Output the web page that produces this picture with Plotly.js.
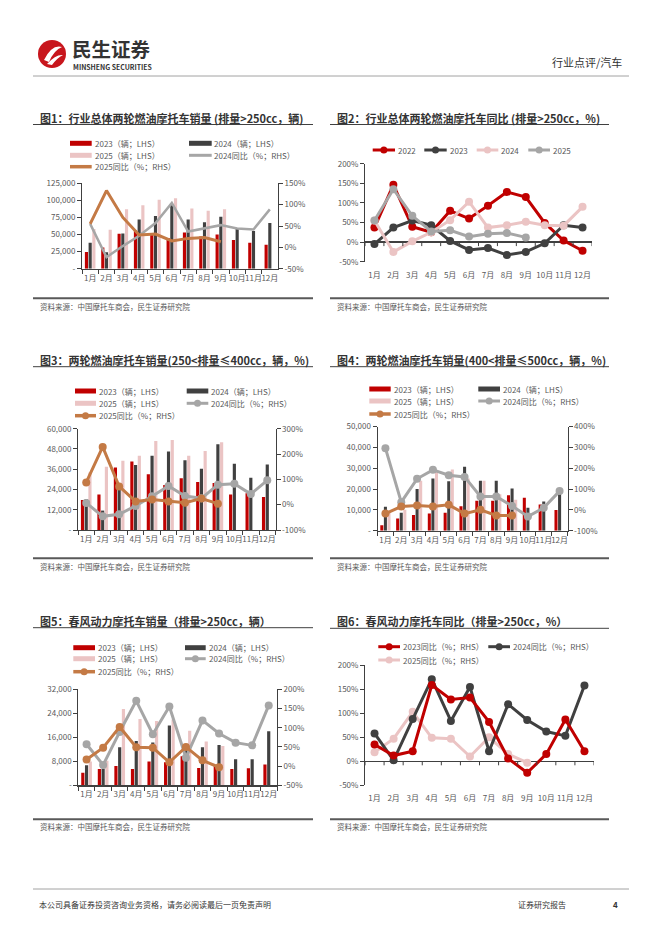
<!DOCTYPE html>
<html><head><meta charset="utf-8">
<script src="https://cdn.plot.ly/plotly-3.0.1.min.js"></script>
<style>html,body{margin:0;padding:0;background:#fff;}#page{width:662px;height:936px;}</style>
</head><body><div id="page"></div>
<script>
// ---------- data ----------
const months = ['1月','2月','3月','4月','5月','6月','7月','8月','9月','10月','11月','12月'];
const months9 = months.slice(0, 9);

// 图1 行业总体 >250cc (辆 / %)
const c1_2023 = [24500, 31000, 51000, 56000, 50000, 45000, 53000, 47000, 50000, 42000, 38000, 35000];
const c1_2024 = [38000, 24000, 51500, 72000, 77000, 93000, 72000, 68000, 76000, 58000, 55000, 67000];
const c1_2025 = [58000, 57000, 87000, 93000, 101000, 103000, 88000, 85000, 87000];
const c1_yoy2024 = [55, -23, 3, 27, 57, 104, 37, 44, 52, 44, 42, 89];
const c1_yoy2025 = [55, 133, 70, 29, 31, 15, 21, 23, 13];

// 图2 行业总体同比 (%)
const c2_2022 = [37, 146, 39, 25, 80, 60, 93, 128, 115, 49, 4, -22];
const c2_2023 = [-5, 37, 55, 43, 3, -20, -15, -33, -25, -3, 43, 37];
const c2_2024 = [55, -25, 2, 25, 56, 103, 37, 43, 52, 43, 42, 90];
const c2_2025 = [55, 135, 67, 27, 30, 14, 21, 23, 12];

// 图3 250<排量≤400cc
const c3_2023 = [17800, 21000, 37000, 40500, 33000, 26700, 30600, 28500, 27900, 21000, 21700, 19600];
const c3_2024 = [18200, 11500, 24000, 38500, 44000, 46500, 41300, 36300, 50800, 39200, 31000, 38800];
const c3_2025 = [34000, 37500, 41000, 44000, 52700, 53300, 44000, 46800, 52000];
const c3_yoy2024 = [7, -46, -38, -5, 33, 74, 34, 25, 79, 83, 42, 96];
const c3_yoy2025 = [88, 228, 72, 13, 20, 13, 8, 24, 4];

// 图4 400<排量≤500cc
const c4_2023 = [2600, 5900, 7500, 8200, 8600, 11700, 14400, 14400, 17000, 15800, 12600, 9900];
const c4_2024 = [11500, 8600, 20000, 25000, 23700, 30700, 24000, 24000, 20300, 11000, 14000, 18400];
const c4_2025 = [9400, 10000, 24000, 29000, 29400, 25000, 24000, 17500, 14800];
const c4_yoy2024 = [296, 37, 149, 192, 166, 158, 64, 64, 19, -32, 10, 90];
const c4_yoy2025 = [-18, 16, 21, 16, 24, -18, 0, -27, -27];

// 图5 春风动力 >250cc
const c5_2023 = [4200, 5400, 6400, 5400, 7900, 7700, 9700, 5800, 6600, 5400, 5700, 6900];
const c5_2024 = [6700, 5500, 12700, 14800, 14300, 19900, 11800, 12700, 13400, 8700, 8700, 18000];
const c5_2025 = [7900, 8200, 25400, 22100, 21400, 21900, 18200, 14600, 13100];
const c5_yoy2024 = [57, 3, 89, 170, 83, 155, 22, 119, 85, 61, 54, 158];
const c5_yoy2025 = [17, 48, 102, 49, 48, 10, 50, 15, -3];

// 图6 春风动力同比
const c6_2023 = [35, 12, 21, 159, 129, 133, 82, 6, -24, 15, 87, 21];
const c6_2024 = [58, 2, 88, 171, 84, 155, 21, 119, 86, 62, 53, 158];
const c6_2025 = [19, 47, 103, 49, 47, 10, 50, 15, -3];

// tick labels
const t1L = {vals:[0,25000,50000,75000,100000,125000], text:['-','25,000','50,000','75,000','100,000','125,000']};
const t1R = {vals:[-50,0,50,100,150], text:['-50%','0%','50%','100%','150%']};
const t2L = {vals:[-50,0,50,100,150,200], text:['-50%','0%','50%','100%','150%','200%']};
const t3L = {vals:[0,12000,24000,36000,48000,60000], text:['-','12,000','24,000','36,000','48,000','60,000']};
const t3R = {vals:[-100,0,100,200,300], text:['-100%','0%','100%','200%','300%']};
const t4L = {vals:[0,10000,20000,30000,40000,50000], text:['-','10,000','20,000','30,000','40,000','50,000']};
const t4R = {vals:[-100,0,100,200,300,400], text:['-100%','0%','100%','200%','300%','400%']};
const t5L = {vals:[0,8000,16000,24000,32000], text:['-','8,000','16,000','24,000','32,000']};
const t5R = {vals:[-50,0,50,100,150,200], text:['-50%','0%','50%','100%','150%','200%']};
const t6L = {vals:[-50,0,50,100,150,200], text:['-50%','0%','50%','100%','150%','200%']};

const lblVol = ['2023（辆；LHS）','2024（辆；LHS）','2025（辆；LHS）','2024同比（%；RHS）','2025同比（%；RHS）'];
const lbl2 = ['2022','2023','2024','2025'];
const lbl6 = ['2023同比（%；RHS）','2024同比（%；RHS）','2025同比（%；RHS）'];

// ---------- styles ----------
const W = 662, H = 936;
const FF = '"Noto Sans CJK SC","Noto Sans",sans-serif';
const RED = '#C00000', DARK = '#404040', PINK = '#EBC4C4', GRAY = '#A6A6A6', BROWN = '#C47A45';
const AX = '#404040', TXT = '#595959';
const X = p => p / W, Y = p => 1 - p / H;

const traces = [];
const layout = {
  width: W, height: H, margin: {l:0, r:0, t:0, b:0},
  paper_bgcolor: '#ffffff', plot_bgcolor: 'rgba(0,0,0,0)',
  showlegend: false, barmode: 'group', bargap: 0.32, bargroupgap: 0.15,
  font: {family: FF, size: 8, color: TXT},
  shapes: [], annotations: []
};

function bar(x, y, color, xa, ya, name) {
  traces.push({type:'bar', x, y, name, xaxis:xa, yaxis:ya, marker:{color, line:{width:0}}, hoverinfo:'skip'});
}
function line(x, y, color, width, msize, xa, ya, name) {
  traces.push({type:'scatter', mode: msize ? 'lines+markers' : 'lines', x, y, name, xaxis:xa, yaxis:ya,
    line:{color, width}, marker:{color, size: msize || 0}, hoverinfo:'skip', cliponaxis:false});
}
function axName(id) { return id.replace('x','xaxis').replace('y','yaxis'); }

function xaxisCfg(id, yid, x0, x1, cross) {
  layout[axName(id)] = {
    domain:[X(x0), X(x1)], anchor:yid, type:'category', categoryarray: months, range:[-0.5, 11.5],
    showline: !cross, linecolor: AX, linewidth: 1.3, ticks: cross ? '' : 'outside', tickson:'boundaries',
    ticklen: 4, tickcolor: AX, tickwidth: 1, showgrid:false, zeroline:false, fixedrange:true, tickangle: 0,
    tickfont:{family:FF, size:8, color:TXT}, ticklabelstandoff: cross ? 7 : 1
  };
}
function yaxisCfg(id, xid, y0, y1, range, tk, zero) {
  layout[axName(id)] = {
    domain:[Y(y1), Y(y0)], anchor:xid, range, tickvals: tk.vals, ticktext: tk.text,
    showline:true, linecolor: AX, linewidth: 1, ticks:'outside', ticklen:4, tickcolor: AX,
    showgrid:false, zeroline: !!zero, zerolinecolor: AX, zerolinewidth: 1.5, fixedrange:true,
    tickfont:{family:FF, size:8, color:TXT}
  };
}
function yaxisRight(id, base, xid, range, tk) {
  layout[axName(id)] = {
    overlaying: base, side:'right', anchor:xid, range, tickvals: tk.vals, ticktext: tk.text,
    showline:true, linecolor: AX, linewidth: 1, ticks:'outside', ticklen:4, tickcolor: AX,
    showgrid:false, zeroline:false, fixedrange:true, tickfont:{family:FF, size:8, color:TXT}
  };
}
function crossTicks(xid, yid) {
  for (let i = 0; i <= 12; i++) {
    layout.shapes.push({type:'line', xref:xid, yref:yid, x0:i-0.5, x1:i-0.5, ysizemode:'pixel', yanchor:0,
      y0:0, y1:-4, line:{color:AX, width:1}});
  }
}

// ---------- text & rules helpers ----------
function text(x, y, s, size, color, opts) {
  opts = opts || {};
  layout.annotations.push(Object.assign({xref:'paper', yref:'paper', x:X(x), y:Y(y), text:s, showarrow:false,
    xanchor:'left', yanchor:'middle', borderpad:0, font:{family:FF, size, color}}, opts));
}
function hline(x0, x1, y, color, width) {
  layout.shapes.push({type:'line', xref:'paper', yref:'paper', x0:X(x0), x1:X(x1), y0:Y(y), y1:Y(y), line:{color, width}});
}
function legBar(x0, x1, yc, color) {
  layout.shapes.push({type:'rect', xref:'paper', yref:'paper', x0:X(x0), x1:X(x1), y0:Y(yc+2.5), y1:Y(yc-2.5), fillcolor:color, line:{width:0}});
}
function legLine(x0, x1, yc, color, marker, w) {
  layout.shapes.push({type:'line', xref:'paper', yref:'paper', x0:X(x0), x1:X(x1), y0:Y(yc), y1:Y(yc), line:{color, width: w || 3}});
  if (marker) {
    const cx = (x0 + x1) / 2, r = marker / 2;
    layout.shapes.push({type:'circle', xref:'paper', yref:'paper', x0:X(cx-r), x1:X(cx+r), y0:Y(yc+r), y1:Y(yc-r), fillcolor:color, line:{width:0}});
  }
}
function legend5(colA, colB, rows, withMarkers) {
  legBar(colA[0], colA[1], rows[0], RED);   text(colA[2], rows[0], lblVol[0], 8, TXT);
  legBar(colB[0], colB[1], rows[0], DARK);  text(colB[2], rows[0], lblVol[1], 8, TXT);
  legBar(colA[0], colA[1], rows[1], PINK);  text(colA[2], rows[1], lblVol[2], 8, TXT);
  legLine(colB[0], colB[1], rows[1], GRAY, withMarkers ? 7 : 0); text(colB[2], rows[1], lblVol[3], 8, TXT);
  legLine(colA[0], colA[1], rows[2], BROWN, withMarkers ? 7 : 0, 3.5); text(colA[2], rows[2], lblVol[4], 8, TXT);
}
function panelFrame(x0, x1, titleY, ruleY, srcRuleY, srcY, title) {
  text(x0 + 6, titleY, '<b>' + title + '</b>', 11, '#333333');
  hline(x0, x1, ruleY, '#404040', 1);
  hline(x0, x1, srcRuleY, '#595959', 2);
  text(x0 + 6, srcY, '资料来源：中国摩托车商会，民生证券研究院', 7.5, TXT);
}

// ---------- chart 1 ----------
xaxisCfg('x', 'y', 82, 278);
yaxisCfg('y', 'x', 183.3, 268.7, [0, 125000], t1L);
yaxisRight('y2', 'y', 'x', [-50, 150], t1R);
bar(months, c1_2023, RED, 'x', 'y', lblVol[0]);
bar(months, c1_2024, DARK, 'x', 'y', lblVol[1]);
bar(months9, c1_2025, PINK, 'x', 'y', lblVol[2]);
line(months, c1_yoy2024, GRAY, 2.5, 0, 'x', 'y2', lblVol[3]);
line(months9, c1_yoy2025, BROWN, 3, 0, 'x', 'y2', lblVol[4]);
panelFrame(33, 313, 118.3, 124.5, 298.3, 306.7, '图1：行业总体两轮燃油摩托车销量 (排量&gt;250cc，辆)');
legend5([70, 91.7, 94], [189, 211.7, 213], [143.3, 155.3, 166.7], false);

// ---------- chart 2 ----------
xaxisCfg('x2', 'y3', 365, 592, true);
yaxisCfg('y3', 'x2', 163.7, 261.7, [-50, 200], t2L, true);
crossTicks('x2', 'y3');
line(months, c2_2022, RED, 3, 8, 'x2', 'y3', lbl2[0]);
line(months, c2_2023, DARK, 3, 8, 'x2', 'y3', lbl2[1]);
line(months, c2_2024, PINK, 3, 8, 'x2', 'y3', lbl2[2]);
line(months9, c2_2025, GRAY, 3, 8, 'x2', 'y3', lbl2[3]);
panelFrame(330, 609, 118.3, 124.5, 298.3, 306.7, '图2：行业总体两轮燃油摩托车同比 (排量&gt;250cc，%)');
[[372.7, 395, 397, RED], [424.3, 446.7, 448.7, DARK], [476.7, 498.3, 500, PINK], [528.3, 550, 552, GRAY]].forEach((c, i) => {
  legLine(c[0], c[1], 150, c[3], 7); text(c[2], 150, lbl2[i], 8, TXT);
});

// ---------- chart 3 ----------
xaxisCfg('x3', 'y4', 78, 275.5);
yaxisCfg('y4', 'x3', 428.7, 530, [0, 60000], t3L);
yaxisRight('y5', 'y4', 'x3', [-100, 300], t3R);
bar(months, c3_2023, RED, 'x3', 'y4', lblVol[0]);
bar(months, c3_2024, DARK, 'x3', 'y4', lblVol[1]);
bar(months9, c3_2025, PINK, 'x3', 'y4', lblVol[2]);
line(months, c3_yoy2024, GRAY, 3, 8, 'x3', 'y5', lblVol[3]);
line(months9, c3_yoy2025, BROWN, 3, 8, 'x3', 'y5', lblVol[4]);
panelFrame(33, 313, 360, 366.7, 558.3, 566.7, '图3：两轮燃油摩托车销量(250&lt;排量≤400cc，辆，%)');
legend5([75, 96, 98], [186.7, 208.3, 210], [391, 403.3, 415.7], true);

// ---------- chart 4 ----------
xaxisCfg('x4', 'y6', 377.5, 567.5);
yaxisCfg('y6', 'x4', 426.5, 530.7, [0, 50000], t4L);
yaxisRight('y7', 'y6', 'x4', [-100, 400], t4R);
bar(months, c4_2023, RED, 'x4', 'y6', lblVol[0]);
bar(months, c4_2024, DARK, 'x4', 'y6', lblVol[1]);
bar(months9, c4_2025, PINK, 'x4', 'y6', lblVol[2]);
line(months, c4_yoy2024, GRAY, 3, 8, 'x4', 'y7', lblVol[3]);
line(months9, c4_yoy2025, BROWN, 3, 8, 'x4', 'y7', lblVol[4]);
panelFrame(330, 609, 360, 366.7, 558.3, 566.7, '图4：两轮燃油摩托车销量(400&lt;排量≤500cc，辆，%)');
legend5([369.3, 390.7, 393], [478.3, 500, 502], [389, 401, 414], true);

// ---------- chart 5 ----------
xaxisCfg('x5', 'y8', 78.3, 277);
yaxisCfg('y8', 'x5', 689.3, 785.3, [0, 32000], t5L);
yaxisRight('y9', 'y8', 'x5', [-50, 200], t5R);
bar(months, c5_2023, RED, 'x5', 'y8', lblVol[0]);
bar(months, c5_2024, DARK, 'x5', 'y8', lblVol[1]);
bar(months9, c5_2025, PINK, 'x5', 'y8', lblVol[2]);
line(months, c5_yoy2024, GRAY, 3, 8, 'x5', 'y9', lblVol[3]);
line(months9, c5_yoy2025, BROWN, 3, 8, 'x5', 'y9', lblVol[4]);
panelFrame(33, 313, 621, 627.7, 819.3, 826.7, '图5：春风动力摩托车销量（排量&gt;250cc，辆）');
legend5([73.3, 95, 97], [185, 205.7, 208], [647.7, 658.7, 671.7], true);

// ---------- chart 6 ----------
xaxisCfg('x6', 'y10', 365, 594, true);
yaxisCfg('y10', 'x6', 665.3, 785.3, [-50, 200], t6L, true);
crossTicks('x6', 'y10');
line(months9, c6_2025, PINK, 3, 8, 'x6', 'y10', lbl6[2]);
line(months, c6_2024, DARK, 3, 8, 'x6', 'y10', lbl6[1]);
line(months, c6_2023, RED, 3, 8, 'x6', 'y10', lbl6[0]);
panelFrame(330, 609, 621, 628.3, 819.3, 826.7, '图6：春风动力摩托车同比（排量&gt;250cc，%）');
legLine(378.3, 400, 646.7, RED, 7); text(402, 646.7, lbl6[0], 8, TXT);
legLine(488.3, 510, 646.7, DARK, 7); text(512, 646.7, lbl6[1], 8, TXT);
legLine(378.3, 400, 660, PINK, 7); text(402, 660, lbl6[2], 8, TXT);

// ---------- page header / footer ----------
layout.shapes.push({type:'circle', xref:'paper', yref:'paper', x0:X(38), x1:X(66), y0:Y(68), y1:Y(40), fillcolor:'#C8161D', line:{width:0}});
layout.shapes.push({type:'path', xref:'paper', yref:'paper',
  path:`M${X(44)},${Y(60)} Q${X(52)},${Y(44)} ${X(62)},${Y(47)} Q${X(54)},${Y(50)} ${X(49)},${Y(62)} Z`, fillcolor:'#ffffff', line:{width:0}});
layout.shapes.push({type:'path', xref:'paper', yref:'paper',
  path:`M${X(47)},${Y(64)} Q${X(56)},${Y(54)} ${X(63)},${Y(55)} Q${X(57)},${Y(58)} ${X(52)},${Y(65)} Z`, fillcolor:'#ffffff', line:{width:0}});
text(71, 48.5, '<b>民生证券</b>', 19.5, '#333333');
text(72, 67.5, '<b>MINSHENG SECURITIES</b>', 6.9, '#333333');
text(623, 62, '行业点评/汽车', 11, '#333333', {xanchor:'right'});
hline(33, 629, 76, '#8c8c8c', 0.8);
hline(33, 629, 889, '#8c8c8c', 0.8);
text(38, 904, '本公司具备证券投资咨询业务资格，请务必阅读最后一页免责声明', 8, '#333333');
text(517, 904, '证券研究报告', 8, '#333333');
text(612, 904, '<b>4</b>', 8, '#333333');

Plotly.newPlot('page', traces, layout, {displayModeBar:false, staticPlot:true});
</script>
</body></html>
